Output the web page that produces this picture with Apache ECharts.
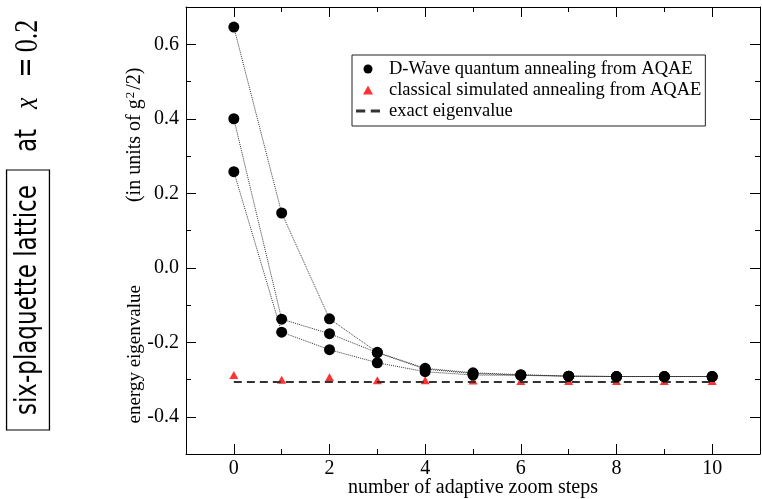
<!DOCTYPE html>
<html>
<head>
<meta charset="utf-8">
<script src="https://cdn.jsdelivr.net/npm/echarts@6/dist/echarts.min.js"></script>
<style>
html,body{margin:0;padding:0;background:#fff;}
#chart{width:762px;height:499px;}
</style>
</head>
<body>
<div id="chart"></div>
<script>
// ---- data ----
const steps = [0, 1, 2, 3, 4, 5, 6, 7, 8, 9, 10];
const dwaveRunA = [0.646, 0.147, -0.137, -0.227, -0.270, -0.282, -0.287, -0.291, -0.292, -0.292, -0.292];
const dwaveRunB = [0.400, -0.138, -0.177, -0.228, -0.272, -0.284, -0.288, -0.291, -0.292, -0.292, -0.292];
const dwaveRunC = [0.258, -0.173, -0.220, -0.255, -0.279, -0.288, -0.289, -0.291, -0.292, -0.292, -0.292];
const classicalSA = [-0.288, -0.301, -0.294, -0.302, -0.302, -0.303, -0.304, -0.304, -0.304, -0.304, -0.304];
const exactEigenvalue = -0.307;
const exactRange = [0, 10];
const xTickLabels = [0, 2, 4, 6, 8, 10];
const yTickLabels = [-0.4, -0.2, 0.0, 0.2, 0.4, 0.6];

const nameDW = 'D-Wave quantum annealing from AQAE';
const nameSA = 'classical simulated annealing from AQAE';
const nameEx = 'exact eigenvalue';

const pairs = (xs, ys) => xs.map((x, i) => [x, ys[i]]);
const serif = 'Liberation Serif';

const xFmt = v => xTickLabels.some(t => Math.abs(t - v) < 1e-9) ? String(Math.round(v)) : '';
const yFmt = v => yTickLabels.some(t => Math.abs(t - v) < 1e-9) ? v.toFixed(1) : '';

const tickCommon = {
  axisLine: {show: true, onZero: false, lineStyle: {color: '#000', width: 1}},
  axisTick: {show: true, inside: true, length: 10, lineStyle: {color: '#000', width: 1}},
  minorTick: {show: true, splitNumber: 2, length: 5, lineStyle: {color: '#000', width: 1}},
  splitLine: {show: false},
  minorSplitLine: {show: false}
};

const chart = echarts.init(document.getElementById('chart'), null, {renderer: 'canvas'});

const dwLine = (data) => ({
  name: nameDW, type: 'line', data: data, z: 5,
  symbol: 'circle', symbolSize: 11,
  itemStyle: {color: '#000'},
  lineStyle: {color: '#333', width: 1, type: 'dotted'},
  emphasis: {disabled: true}
});

chart.setOption({
  animation: false,
  grid: {left: 186, right: 2, top: 7, bottom: 45, containLabel: false, outerBoundsMode: 'none'},
  legend: {
    left: 352, top: 55, orient: 'vertical',
    padding: [4, 4, 5, 4],
    itemGap: 1, itemWidth: 24, itemHeight: 9,
    symbolKeepAspect: true,
    borderColor: '#222', borderWidth: 1, backgroundColor: '#fff',
    textStyle: {fontFamily: serif, fontSize: 18.5, color: '#000', lineHeight: 20, padding: [0, 0, 0, 4]},
    data: [
      {name: nameDW, icon: 'circle'},
      {name: nameSA, icon: 'path://M5,0L10,9H0Z'},
      {name: nameEx, icon: 'path://M0,0H10V3H0Z M16,0H26V3H16Z'}
    ],
    selectedMode: false
  },
  xAxis: [
    Object.assign({
      type: 'value', position: 'bottom', min: -1, max: 11, splitNumber: 6,
      name: 'number of adaptive zoom steps', nameLocation: 'middle', nameGap: 24, nameMoveOverlap: false,
      nameTextStyle: {fontFamily: serif, fontSize: 20, color: '#000'},
      axisLabel: {formatter: xFmt, margin: 5, fontFamily: serif, fontSize: 20, color: '#000'}
    }, tickCommon),
    Object.assign({
      type: 'value', position: 'top', min: -1, max: 11, splitNumber: 6,
      axisLabel: {show: false}
    }, tickCommon)
  ],
  yAxis: [
    Object.assign({
      type: 'value', position: 'left', min: -0.5, max: 0.7, splitNumber: 6,
      name: '{a|energy eigenvalue}{b|(in units of g}{s|2}{c|/2)}', nameLocation: 'middle', nameGap: 40, nameRotate: 90,
      nameMoveOverlap: false,
      nameTextStyle: {
        fontFamily: serif, fontSize: 19, color: '#000', padding: [0, 30, 0, 0],
        rich: {
          a: {fontFamily: serif, fontSize: 19, color: '#000', lineHeight: 22, padding: [0, 83, 0, 0]},
          b: {fontFamily: serif, fontSize: 20, color: '#000', lineHeight: 22},
          s: {fontFamily: serif, fontSize: 13, color: '#000', lineHeight: 22, verticalAlign: 'top', padding: [0, 1, 0, 1]},
          c: {fontFamily: serif, fontSize: 20, color: '#000', lineHeight: 22, padding: [0, 0, 0, 1]}
        }
      },
      axisLabel: {formatter: yFmt, margin: 7, fontFamily: serif, fontSize: 20, color: '#000'}
    }, tickCommon),
    Object.assign({
      type: 'value', position: 'right', min: -0.5, max: 0.7, splitNumber: 6,
      axisLabel: {show: false}
    }, tickCommon)
  ],
  series: [
    {
      name: nameSA, type: 'scatter', data: pairs(steps, classicalSA), z: 2,
      symbol: 'triangle', symbolSize: [9, 8],
      itemStyle: {color: '#ff0000'}, emphasis: {disabled: true}
    },
    {
      name: nameEx, type: 'line', data: [[exactRange[0], exactEigenvalue], [exactRange[1], exactEigenvalue]], z: 3,
      symbol: 'none', itemStyle: {color: '#333'},
      lineStyle: {color: '#333', width: 2, type: [8, 5]},
      emphasis: {disabled: true}
    },
    dwLine(pairs(steps, dwaveRunA)),
    dwLine(pairs(steps, dwaveRunB)),
    dwLine(pairs(steps, dwaveRunC))
  ],
  graphic: [
    {
      type: 'text', x: 28, y: 430, rotation: Math.PI / 2, scaleY: 1.3,
      style: {
        text: '{box|six-plaquette lattice}{at|at}{it|x}{eq|=}{num|0.2}',
        align: 'left', verticalAlign: 'middle',
        rich: {
          box: {fontFamily: 'DejaVu Sans', fontSize: 23, color: '#000', borderColor: '#000', borderWidth: 1,
                padding: [5, 15, 5, 15], verticalAlign: 'middle'},
          at: {fontFamily: 'DejaVu Sans', fontSize: 23, color: '#000', padding: [0, 20, 0, 18], verticalAlign: 'middle'},
          it: {fontFamily: serif, fontStyle: 'italic', fontSize: 26, color: '#000', padding: [0, 20, 0, 0], verticalAlign: 'middle'},
          eq: {fontFamily: 'DejaVu Serif', fontSize: 24, color: '#000', padding: [0, 5, 0, 0], verticalAlign: 'middle'},
          num: {fontFamily: serif, fontSize: 26, color: '#000', verticalAlign: 'middle'}
        }
      }
    }
  ]
});
</script>
</body>
</html>
